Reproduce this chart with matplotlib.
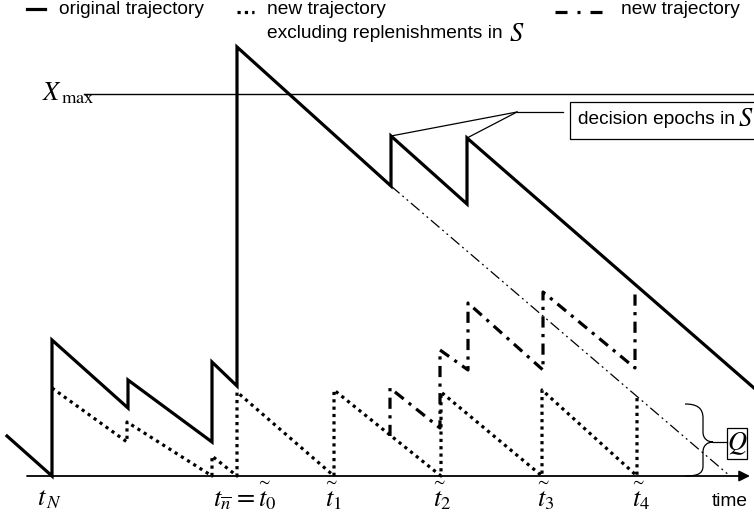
import matplotlib
matplotlib.use("Agg")
import matplotlib.pyplot as plt
from matplotlib.patches import Rectangle, PathPatch
from matplotlib.path import Path

plt.rcParams['mathtext.fontset'] = 'stix'
plt.rcParams['font.family'] = ['Liberation Sans', 'DejaVu Sans']

# ---- data (time, inventory level) read from the schematic ----
orig_t = [7, 52, 52, 128, 128, 212, 212, 237, 237, 391, 391, 467, 467, 754]
orig_y = [40, 0, 136, 68, 96, 34, 114, 90, 429, 290, 340, 272, 338, 88]

excl_t = [52, 127, 127, 212, 212, 237, 237, 334, 334, 441, 441, 542, 542, 637, 637]
excl_y = [88, 34, 54, 0, 20, 0, 84, 0, 86, 0, 84, 0, 86, 0, 79]

new_t = [390, 390, 440, 440, 468, 468, 543, 543, 635, 635]
new_y = [40, 88, 48, 126, 106, 173, 106, 184, 108, 183]

cont_t = [391, 730]
cont_y = [290, 0]

x_max = 382
q_top, q_bottom = 72, 0

tilde_pos = [258, 325, 433, 537, 632]
tilde_sub = ['0', '1', '2', '3', '4']
epochs = [(391, 340), (467, 338)]

FS = 13.8
MS = 19

fig = plt.figure(figsize=(7.54, 5.18), dpi=100)
ax = fig.add_axes([0, 0, 1, 1])
ax.set_xlim(0, 754)
ax.set_ylim(-42, 476)
ax.axis('off')

# time axis with arrow
ax.annotate('', xy=(750, 0), xytext=(27, 0),
            arrowprops=dict(arrowstyle='-|>', lw=1.3, color='black', mutation_scale=16,
                            shrinkA=0, shrinkB=0))
ax.text(748, -26, 'time', ha='right', va='center', fontsize=FS)

# X_max line
ax.plot([84, 754], [x_max, x_max], color='black', lw=1.0)
ax.text(42, x_max + 1, r'$X_{\,\mathrm{max}}$', ha='left', va='center', fontsize=MS)

# trajectories
ax.plot(cont_t, cont_y, color='black', lw=0.9, linestyle=(0, (9, 3, 1.5, 3, 1.5, 3)))
ax.plot(excl_t, excl_y, color='black', lw=2.3, linestyle=(0, (1, 1.3)), dash_capstyle='butt')
ax.plot(new_t, new_y, color='black', lw=2.3, linestyle=(0, (3.5, 2, 1, 2)), dash_capstyle='butt')
ax.plot(orig_t, orig_y, color='black', lw=2.3, solid_joinstyle='miter')

# tick labels
ax.text(37, -23, r'$t_{\,N}$', ha='left', va='center', fontsize=MS)
ax.text(213, -23, r'$t_{\overline{n}}$', ha='left', va='center', fontsize=MS)
ax.text(244, -20, r'$=$', ha='center', va='center', fontsize=MS)
for p, s in zip(tilde_pos, tilde_sub):
    ax.text(p, -24, r'$t_{%s}$' % s, ha='left', va='center', fontsize=MS)
    ax.text(p + 5.5, -5, r'$\sim$', ha='center', va='center', fontsize=12)

# decision epochs annotation
ax.add_patch(Rectangle((570, 337), 250, 37, fill=False, lw=0.9, edgecolor='black', clip_on=True))
ax.text(578, 356, 'decision epochs in', ha='left', va='center', fontsize=FS)
ax.text(738, 357, r'$S$', ha='left', va='center', fontsize=MS)
ax.plot([563, 517], [364, 364], color='black', lw=0.9)
for ex, ey in epochs:
    ax.plot([517, ex], [364, ey], color='black', lw=0.9)

# Q brace
verts = [(685, q_top), (697, q_top), (703, 68), (703, 58),
         (703, 44),
         (703, 37), (708, 34), (713, 34),
         (708, 34), (703, 31), (703, 24),
         (703, 10),
         (703, 2), (697, q_bottom), (685, q_bottom)]
codes = [Path.MOVETO, Path.CURVE4, Path.CURVE4, Path.CURVE4,
         Path.LINETO,
         Path.CURVE4, Path.CURVE4, Path.CURVE4,
         Path.CURVE4, Path.CURVE4, Path.CURVE4,
         Path.LINETO,
         Path.CURVE4, Path.CURVE4, Path.CURVE4]
ax.add_patch(PathPatch(Path(verts, codes), fill=False, lw=0.9, edgecolor='black'))
ax.plot([713, 727], [34, 34], color='black', lw=0.9)
ax.add_patch(Rectangle((727, 17), 20, 31, fill=False, lw=0.9, edgecolor='black'))
ax.text(737, 32.5, r'$Q$', ha='center', va='center', fontsize=MS)

# legend
ax.plot([27, 45], [467, 467], color='black', lw=2.3)
ax.text(59, 467, 'original trajectory', ha='left', va='center', fontsize=FS)
ax.plot([237, 254], [464, 464], color='black', lw=2.3, linestyle=(0, (1, 1.3)), dash_capstyle='butt')
ax.text(267, 467, 'new trajectory', ha='left', va='center', fontsize=FS)
ax.text(267, 443, 'excluding replenishments in', ha='left', va='center', fontsize=FS)
ax.text(509, 442, r'$S$', ha='left', va='center', fontsize=MS)
ax.plot([555, 603], [464, 464], color='black', lw=2.3, linestyle=(0, (3.76, 3.13, 0.94, 3.13)),
        dash_capstyle='butt')
ax.text(621, 467, 'new trajectory', ha='left', va='center', fontsize=FS)

fig.savefig('out.png', dpi=100)
